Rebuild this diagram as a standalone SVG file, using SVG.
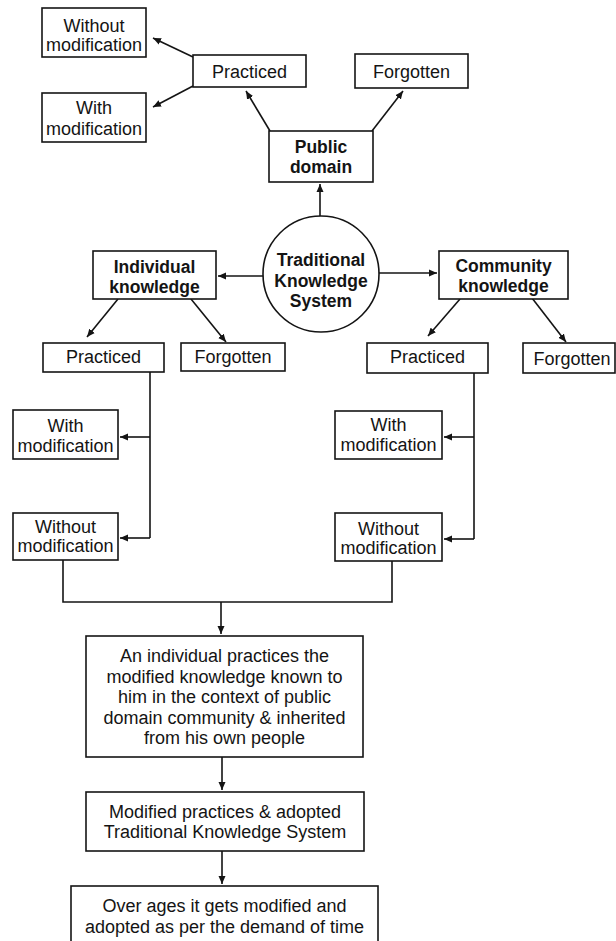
<svg xmlns="http://www.w3.org/2000/svg" width="616" height="941" viewBox="0 0 616 941">
<style>
.box{fill:#fff;stroke:#141414;stroke-width:1.6}
.t{font-family:"Liberation Sans",Arial,sans-serif;font-size:18px;fill:#141414;text-anchor:middle}
.b{font-weight:bold;font-size:17.5px}
.c{fill:none;stroke:#141414;stroke-width:1.6}
</style>
<defs>
<marker id="ah" markerUnits="userSpaceOnUse" markerWidth="9" markerHeight="8" refX="8" refY="4" orient="auto">
<path d="M0,0.5 L8,4 L0,7.5 Z" fill="#141414"/>
</marker>
</defs>
<rect width="616" height="941" fill="#fff"/>
<g id="connectors">
<line class="c" x1="193" y1="57" x2="153" y2="38" marker-end="url(#ah)"/>
<line class="c" x1="193" y1="86" x2="153" y2="107" marker-end="url(#ah)"/>
<line class="c" x1="270" y1="131" x2="246" y2="91" marker-end="url(#ah)"/>
<line class="c" x1="372" y1="131" x2="403" y2="91" marker-end="url(#ah)"/>
<line class="c" x1="320" y1="216" x2="320" y2="184" marker-end="url(#ah)"/>
<line class="c" x1="263" y1="276" x2="218" y2="276" marker-end="url(#ah)"/>
<line class="c" x1="379" y1="273" x2="437" y2="273" marker-end="url(#ah)"/>
<line class="c" x1="118" y1="299" x2="87" y2="337" marker-end="url(#ah)"/>
<line class="c" x1="191" y1="299" x2="226" y2="342" marker-end="url(#ah)"/>
<line class="c" x1="460" y1="299" x2="428" y2="336" marker-end="url(#ah)"/>
<line class="c" x1="532" y1="298" x2="566" y2="342" marker-end="url(#ah)"/>
<line class="c" x1="150" y1="372" x2="150" y2="538"/>
<line class="c" x1="150" y1="437" x2="120" y2="437" marker-end="url(#ah)"/>
<line class="c" x1="150" y1="538" x2="120" y2="538" marker-end="url(#ah)"/>
<line class="c" x1="474" y1="373" x2="474" y2="539"/>
<line class="c" x1="474" y1="437" x2="444" y2="437" marker-end="url(#ah)"/>
<line class="c" x1="474" y1="539" x2="444" y2="539" marker-end="url(#ah)"/>
<polyline class="c" points="63,560 63,602 392,602 392,561"/>
<line class="c" x1="221" y1="602" x2="221" y2="634" marker-end="url(#ah)"/>
<line class="c" x1="222" y1="757" x2="222" y2="790" marker-end="url(#ah)"/>
<line class="c" x1="222" y1="851" x2="222" y2="884" marker-end="url(#ah)"/>
</g>
<g id="top-without">
<rect class="box" x="42" y="8" width="104" height="49"/>
<text class="t" x="94" y="31.5">Without</text>
<text class="t" x="94" y="51">modification</text>
</g>
<g id="top-with">
<rect class="box" x="42" y="93" width="104" height="49"/>
<text class="t" x="94" y="114">With</text>
<text class="t" x="94" y="135">modification</text>
</g>
<g id="top-practiced">
<rect class="box" x="193" y="55" width="113" height="32"/>
<text class="t" x="249.5" y="78">Practiced</text>
</g>
<g id="top-forgotten">
<rect class="box" x="355" y="54" width="113" height="34"/>
<text class="t" x="411.5" y="78">Forgotten</text>
</g>
<g id="public-domain">
<rect class="box" x="269" y="131" width="104" height="51"/>
<text class="t b" x="321" y="153">Public</text>
<text class="t b" x="321" y="173">domain</text>
</g>
<g id="tks">
<circle class="box" cx="321" cy="274" r="58"/>
<text class="t b" x="321" y="266">Traditional</text>
<text class="t b" x="321" y="286.5">Knowledge</text>
<text class="t b" x="321" y="307">System</text>
</g>
<g id="individual">
<rect class="box" x="93" y="251" width="123" height="48"/>
<text class="t b" x="154.5" y="273">Individual</text>
<text class="t b" x="154.5" y="293">knowledge</text>
</g>
<g id="community">
<rect class="box" x="439" y="251" width="129" height="48"/>
<text class="t b" x="503.5" y="272">Community</text>
<text class="t b" x="503.5" y="292">knowledge</text>
</g>
<g id="l-practiced">
<rect class="box" x="43" y="343" width="121" height="29"/>
<text class="t" x="103.5" y="363">Practiced</text>
</g>
<g id="l-forgotten">
<rect class="box" x="181" y="343" width="104" height="28"/>
<text class="t" x="233" y="363">Forgotten</text>
</g>
<g id="r-practiced">
<rect class="box" x="367" y="343" width="121" height="30"/>
<text class="t" x="427.5" y="363">Practiced</text>
</g>
<g id="r-forgotten">
<rect class="box" x="523" y="343" width="92" height="30"/>
<text class="t" x="572" y="365">Forgotten</text>
</g>
<g id="l-with">
<rect class="box" x="13" y="410" width="105" height="49"/>
<text class="t" x="65.5" y="432">With</text>
<text class="t" x="65.5" y="452">modification</text>
</g>
<g id="l-without">
<rect class="box" x="13" y="513" width="105" height="47"/>
<text class="t" x="65.5" y="533">Without</text>
<text class="t" x="65.5" y="552">modification</text>
</g>
<g id="r-with">
<rect class="box" x="335" y="411" width="107" height="48"/>
<text class="t" x="388.5" y="431">With</text>
<text class="t" x="388.5" y="451">modification</text>
</g>
<g id="r-without">
<rect class="box" x="335" y="513" width="107" height="48"/>
<text class="t" x="388.5" y="535">Without</text>
<text class="t" x="388.5" y="554">modification</text>
</g>
<g id="individual-practices">
<rect class="box" x="86" y="636" width="277" height="121"/>
<text class="t" x="224.5" y="662">An individual practices the</text>
<text class="t" x="224.5" y="683">modified knowledge known to</text>
<text class="t" x="224.5" y="703">him in the context of public</text>
<text class="t" x="224.5" y="724">domain community &amp; inherited</text>
<text class="t" x="224.5" y="744">from his own people</text>
</g>
<g id="modified-practices">
<rect class="box" x="86" y="792" width="278" height="59"/>
<text class="t" x="225" y="818">Modified practices &amp; adopted</text>
<text class="t" x="225" y="838">Traditional Knowledge System</text>
</g>
<g id="over-ages">
<rect class="box" x="71" y="886" width="307" height="70"/>
<text class="t" x="224.5" y="912">Over ages it gets modified and</text>
<text class="t" x="224.5" y="933">adopted as per the demand of time</text>
</g>
</svg>
